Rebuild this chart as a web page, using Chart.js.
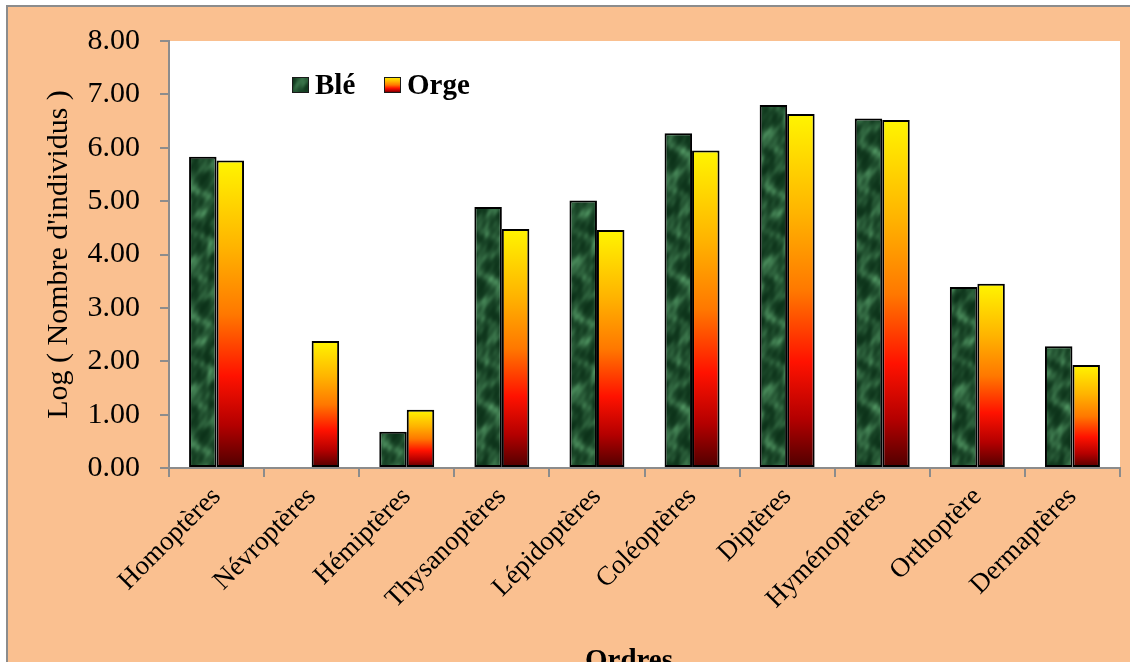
<!DOCTYPE html>
<html lang="fr">
<head>
<meta charset="utf-8">
<title>Log (Nombre d'individus) par ordre</title>
<script src="https://cdn.jsdelivr.net/npm/chart.js@4.4.1/dist/chart.umd.min.js"></script>
<style>
  html, body { margin: 0; padding: 0; background: #ffffff; overflow: hidden; }
  #wrap { position: absolute; left: 0; top: 0; width: 1130px; height: 662px; }
</style>
</head>
<body>
<div id="wrap"><canvas id="chart" width="1130" height="662"></canvas></div>
<script>
// Ordres d'insectes et log du nombre d'individus par culture
const categories = ['Homoptères', 'Névroptères', 'Hémiptères', 'Thysanoptères', 'Lépidoptères',
                    'Coléoptères', 'Diptères', 'Hyménoptères', 'Orthoptère', 'Dermaptères'];
const ble  = [5.83, 0.00, 0.68, 4.89, 5.01, 6.27, 6.80, 6.55, 3.39, 2.28];
const orge = [5.76, 2.38, 1.09, 4.48, 4.46, 5.95, 6.63, 6.52, 3.45, 1.93];
const yMin = 0, yMax = 8, yStep = 1;

const SERIF = '"Liberation Serif", "Times New Roman", serif';
const PEACH = '#FAC090';
const AXIS_GREY = '#8c8c8c';

// Seamless marbled dark-green tile used for the "Blé" bars
function makeMarble() {
  const W = 64, H = 128, TAU = Math.PI * 2;
  const c = document.createElement('canvas');
  c.width = W; c.height = H;
  const g = c.getContext('2d');
  const img = g.createImageData(W, H);
  for (let y = 0; y < H; y++) {
    for (let x = 0; x < W; x++) {
      const u = x / W, w = y / H;
      let v = Math.sin(TAU * 2 * u + 2.4 * Math.sin(TAU * 3 * w))
            + 0.8 * Math.sin(TAU * (u + 2 * w) + 1.5 * Math.cos(TAU * 3 * u))
            + 0.5 * Math.sin(TAU * (5 * w - u))
            + 0.35 * Math.sin(TAU * (9 * u + 7 * w)) * Math.cos(TAU * 6 * w);
      v = (v + 2.6) / 5.2;
      v = Math.max(0, Math.min(1, v));
      const t = Math.pow(v, 1.7);
      const i = (y * W + x) * 4;
      img.data[i]     = Math.round(12 + t * 64);
      img.data[i + 1] = Math.round(50 + t * 92);
      img.data[i + 2] = Math.round(25 + t * 68);
      img.data[i + 3] = 255;
    }
  }
  g.putImageData(img, 0, 0);
  return g.createPattern(c, 'repeat');
}

// Yellow → orange → red → maroon, top to bottom of each "Orge" bar
function fireGradient(ctx, top, bottom) {
  const gr = ctx.createLinearGradient(0, top, 0, bottom);
  gr.addColorStop(0.00, '#FFF500');
  gr.addColorStop(0.28, '#FFB400');
  gr.addColorStop(0.50, '#FF7800');
  gr.addColorStop(0.70, '#FF1200');
  gr.addColorStop(0.86, '#B40000');
  gr.addColorStop(1.00, '#4E0000');
  return gr;
}

const marble = makeMarble();

function orgeFill(context) {
  const chart = context.chart;
  if (context.type !== 'data' || !chart.chartArea) return '#FF8C00';
  const ys = chart.scales.y;
  const top = ys.getPixelForValue(context.raw);
  const base = ys.getPixelForValue(0);
  if (base - top < 1) return '#FF8C00';
  return fireGradient(chart.ctx, top, base);
}

// Frame, peach background, white plotting area, legend and x-axis title
const frame = {
  id: 'frame',
  beforeDraw(chart) {
    const { ctx, chartArea: a, width, height } = chart;
    ctx.save();
    ctx.fillStyle = PEACH;
    ctx.fillRect(8, 7, width - 8, height - 7);
    ctx.fillStyle = AXIS_GREY;
    ctx.fillRect(6, 5, width - 6, 2);
    ctx.fillRect(6, 5, 2, height - 5);
    ctx.fillStyle = '#ffffff';
    ctx.fillRect(a.left, a.top, a.right - a.left, a.bottom - a.top);
    ctx.restore();
  },
  afterDraw(chart) {
    const { ctx } = chart;
    const ds = chart.data.datasets;
    ctx.save();
    ctx.font = 'bold 29px ' + SERIF;
    ctx.textBaseline = 'alphabetic';
    ctx.textAlign = 'left';
    ctx.fillStyle = '#000';

    // legend
    const items = [
      { x: 292, fill: marble },
      { x: 384, fill: fireGradient(ctx, 77, 93) }
    ];
    items.forEach((it, i) => {
      ctx.fillStyle = it.fill;
      ctx.fillRect(it.x, 77, 17, 16);
      ctx.strokeStyle = '#1a1a1a';
      ctx.lineWidth = 1;
      ctx.strokeRect(it.x + 0.5, 77.5, 16, 15);
      ctx.fillStyle = '#000';
      ctx.fillText(ds[i].label, it.x + 23, 94);
    });

    // x-axis title
    ctx.textAlign = 'center';
    ctx.fillText('Ordres', 629, 669);
    ctx.restore();
  }
};

new Chart(document.getElementById('chart'), {
  type: 'bar',
  data: {
    labels: categories,
    datasets: [
      {
        label: 'Blé',
        data: ble,
        backgroundColor: marble,
        borderColor: '#000000',
        borderWidth: c => (c.raw > 0 ? 2 : 0),
        borderSkipped: false,
        categoryPercentage: 0.578,
        barPercentage: 1.0
      },
      {
        label: 'Orge',
        data: orge,
        backgroundColor: orgeFill,
        borderColor: '#000000',
        borderWidth: c => (c.raw > 0 ? 2 : 0),
        borderSkipped: false,
        categoryPercentage: 0.578,
        barPercentage: 1.0
      }
    ]
  },
  options: {
    responsive: false,
    animation: false,
    layout: { padding: { left: 0, top: 41, right: 10, bottom: 0 } },
    plugins: {
      legend: { display: false },
      tooltip: { enabled: false },
      title: { display: false }
    },
    scales: {
      x: {
        grid: {
          offset: true,
          drawOnChartArea: false,
          drawTicks: true,
          tickLength: 9,
          color: AXIS_GREY,
          lineWidth: 2
        },
        border: { display: true, color: AXIS_GREY, width: 2 },
        ticks: {
          autoSkip: false,
          minRotation: 45,
          maxRotation: 45,
          padding: 4,
          color: '#000',
          font: { family: SERIF, size: 27 }
        },
        afterFit(scale) { scale.height = 194; }
      },
      y: {
        min: yMin,
        max: yMax,
        grid: {
          drawOnChartArea: false,
          drawTicks: true,
          tickLength: 9,
          color: AXIS_GREY,
          lineWidth: 2
        },
        border: { display: true, color: AXIS_GREY, width: 2 },
        ticks: {
          stepSize: yStep,
          padding: 20,
          color: '#000',
          font: { family: SERIF, size: 30 },
          callback: v => Number(v).toFixed(2)
        },
        title: {
          display: true,
          text: "Log ( Nombre d'individus )",
          color: '#000',
          font: { family: SERIF, size: 30 },
          padding: { top: 41, bottom: 0 }
        },
        afterFit(scale) { scale.width = 169; }
      }
    }
  },
  plugins: [frame]
});
</script>
</body>
</html>
